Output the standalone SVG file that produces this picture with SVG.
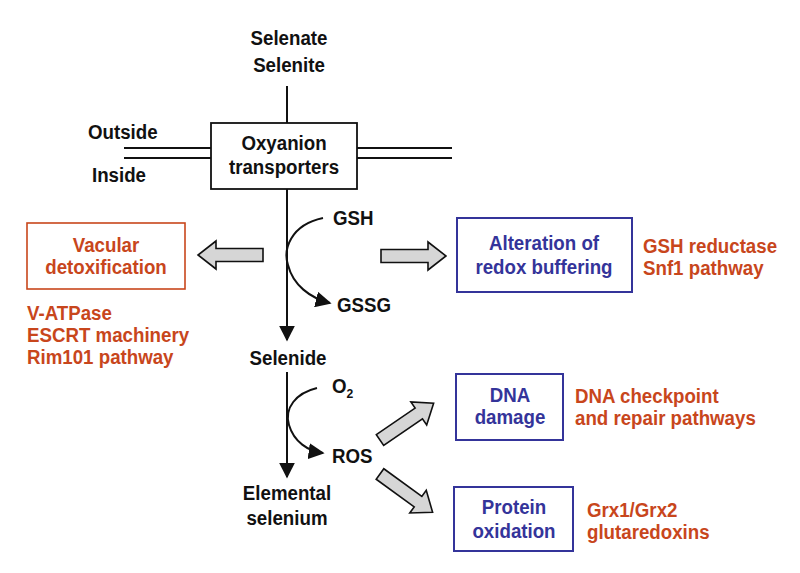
<svg xmlns="http://www.w3.org/2000/svg" width="800" height="573" viewBox="0 0 800 573">
<style>
text{font-family:"Liberation Sans",Arial,sans-serif;font-weight:bold;font-size:20px;transform-box:fill-box;transform-origin:left center;transform:scaleX(0.935)}
.k{fill:#111}
.r{fill:#c8461c}
.b{fill:#34349a}
.c{text-anchor:middle;transform-origin:center center}
.ln{stroke:#111;stroke-width:2;fill:none}
.blk{fill:#d6d6d6;stroke:#111;stroke-width:1.6;stroke-linejoin:miter}
</style>
<defs>
<marker id="ahb" viewBox="0 0 10 10" refX="9" refY="5" markerWidth="16" markerHeight="16" markerUnits="userSpaceOnUse" orient="auto">
<path d="M0,0 L10,5 L0,10 Z" fill="#111"/>
</marker>
<path id="blockArrow" d="M0,-6.5 H47 V-14 L65,0 L47,14 V6.5 H0 Z"/>
</defs>
<rect width="800" height="573" fill="#fff"/>

<g id="membrane">
<line x1="124" y1="148" x2="211" y2="148" class="ln" stroke-width="1.6"/>
<line x1="124" y1="158" x2="211" y2="158" class="ln" stroke-width="1.6"/>
<line x1="357" y1="148" x2="452" y2="148" class="ln" stroke-width="1.6"/>
<line x1="357" y1="158" x2="452" y2="158" class="ln" stroke-width="1.6"/>
<text x="88" y="139" class="k">Outside</text>
<text x="92" y="182" class="k">Inside</text>
</g>

<g id="connectors">
<line x1="287" y1="86" x2="287" y2="123" class="ln"/>
<line x1="287" y1="189" x2="287" y2="340" class="ln" marker-end="url(#ahb)"/>
<path d="M323,218 C290,225 283,250 288,265 C293,285 310,298 330,303" class="ln" marker-end="url(#ahb)"/>
<line x1="287" y1="372" x2="287" y2="477" class="ln" marker-end="url(#ahb)"/>
<path d="M317,388 C296,393 284,408 289,425 C294,442 308,451 323,453" class="ln" marker-end="url(#ahb)"/>
<use href="#blockArrow" class="blk" transform="translate(263,255) rotate(180)"/>
<use href="#blockArrow" class="blk" transform="translate(381,256)"/>
<use href="#blockArrow" class="blk" transform="translate(380,440) rotate(-34.4)"/>
<use href="#blockArrow" class="blk" transform="translate(380,474) rotate(36)"/>
</g>

<g id="selenate">
<text x="289" y="45" class="k c">Selenate</text>
<text x="289" y="72" class="k c">Selenite</text>
</g>

<g id="transporters">
<rect x="211" y="123" width="146" height="66" fill="#fff" stroke="#111" stroke-width="1.8"/>
<text x="284" y="150" class="k c">Oxyanion</text>
<text x="284" y="174" class="k c">transporters</text>
</g>

<g id="gsh"><text x="333" y="225" class="k">GSH</text></g>
<g id="gssg"><text x="337" y="312" class="k">GSSG</text></g>

<g id="selenide"><text x="288" y="365" class="k c">Selenide</text></g>
<g id="o2"><text x="332" y="393" class="k">O<tspan font-size="13" dy="5">2</tspan></text></g>
<g id="ros"><text x="332" y="463" class="k">ROS</text></g>
<g id="elemental">
<text x="287" y="500" class="k c">Elemental</text>
<text x="287" y="525" class="k c">selenium</text>
</g>

<g id="vacular">
<rect x="27" y="223" width="158" height="66" fill="#fff" stroke="#c8461c" stroke-width="1.6"/>
<text x="106" y="252" class="r c">Vacular</text>
<text x="106" y="274" class="r c">detoxification</text>
</g>
<g id="vacular-genes">
<text x="27" y="320" class="r">V-ATPase</text>
<text x="27" y="342" class="r">ESCRT machinery</text>
<text x="27" y="364" class="r">Rim101 pathway</text>
</g>

<g id="redox">
<rect x="457" y="218" width="175" height="74" fill="#fff" stroke="#34349a" stroke-width="2"/>
<text x="544" y="250" class="b c">Alteration of</text>
<text x="544" y="274" class="b c">redox buffering</text>
</g>
<g id="redox-genes">
<text x="643" y="253" class="r">GSH reductase</text>
<text x="643" y="275" class="r">Snf1 pathway</text>
</g>

<g id="dna">
<rect x="456" y="374" width="107" height="66" fill="#fff" stroke="#34349a" stroke-width="2"/>
<text x="510" y="402" class="b c">DNA</text>
<text x="510" y="424" class="b c">damage</text>
</g>
<g id="dna-genes">
<text x="575" y="403" class="r">DNA checkpoint</text>
<text x="575" y="425" class="r">and repair pathways</text>
</g>

<g id="protein">
<rect x="454" y="487" width="119" height="64" fill="#fff" stroke="#34349a" stroke-width="2"/>
<text x="514" y="514" class="b c">Protein</text>
<text x="514" y="538" class="b c">oxidation</text>
</g>
<g id="protein-genes">
<text x="587" y="517" class="r">Grx1/Grx2</text>
<text x="587" y="539" class="r">glutaredoxins</text>
</g>
</svg>
